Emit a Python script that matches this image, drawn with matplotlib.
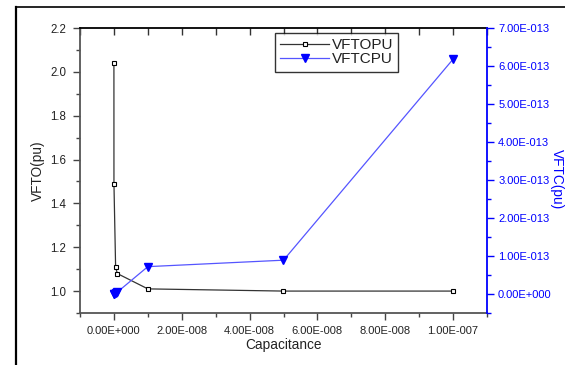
import matplotlib
matplotlib.use('Agg')
import matplotlib.pyplot as plt
from matplotlib.ticker import MultipleLocator, FuncFormatter, NullFormatter
from matplotlib.lines import Line2D

plt.rcParams['font.family'] = ['Liberation Sans', 'DejaVu Sans']

# capacitance values (F) and the two measured quantities
cap = [1e-12, 1e-11, 5e-10, 1e-9, 1e-8, 5e-8, 1e-7]
vfto = [2.04, 1.49, 1.11, 1.08, 1.01, 1.00, 1.00]
vftc = [0.0, 0.01e-13, 0.03e-13, 0.05e-13, 0.72e-13, 0.89e-13, 6.18e-13]


def sci(v, pos):
    # Origin style: 2.00E-008
    if abs(v) < 1e-30:
        return '0.00E+000'
    mant, exp = ('%.2E' % v).split('E')
    return '%sE%+04d' % (mant, int(exp))


fig = plt.figure(figsize=(5.65, 3.65), dpi=100)
ax = fig.add_axes([80/565, 1 - 313/365, 407/565, 285/365])

l1, = ax.plot(cap, vfto, color='#333333', lw=0.9, marker='s', ms=3.5,
              mfc='white', mec='black', mew=0.8, label='VFTOPU')
ax.set_xlim(-1e-8, 1.1e-7)
ax.set_ylim(0.9, 2.2)
ax.xaxis.set_major_locator(MultipleLocator(2e-8))
ax.xaxis.set_minor_locator(MultipleLocator(1e-8))
ax.yaxis.set_major_locator(MultipleLocator(0.2))
ax.yaxis.set_minor_locator(MultipleLocator(0.1))
ax.xaxis.set_major_formatter(FuncFormatter(sci))
ax.yaxis.set_major_formatter(FuncFormatter(lambda v, p: '%.1f' % v))
ax.tick_params(which='major', direction='out', length=5, width=1,
               colors='#444444', labelcolor='#222222')
ax.tick_params(which='minor', direction='out', length=3, width=1, colors='#444444')
ax.tick_params(axis='y', which='major', labelsize=8.3, pad=5)
ax.tick_params(axis='x', which='major', labelsize=8, pad=4)
for s in ['left', 'bottom']:
    ax.spines[s].set_color('#555555')
    ax.spines[s].set_linewidth(1.3)
ax.spines['top'].set_color('black')
ax.spines['top'].set_linewidth(1.3)
ax.spines['right'].set_visible(False)
ax.set_xlabel('Capacitance', fontsize=9.8, color='#222222', labelpad=2)
ax.set_ylabel('VFTO(pu)', fontsize=9.8, color='#222222', labelpad=4)

# inward ticks along the top edge
top = ax.secondary_xaxis('top')
top.xaxis.set_major_locator(MultipleLocator(1e-8))
top.xaxis.set_major_formatter(NullFormatter())
top.tick_params(direction='in', length=5, width=1, labeltop=False, colors='#333333')
top.spines['top'].set_visible(False)

ax2 = ax.twinx()
l2, = ax2.plot(cap, vftc, color='#5555ff', lw=0.9, marker='v', ms=5.8,
               mfc='blue', mec='blue', label='VFTCPU')
ax2.set_ylim(-0.5e-13, 7e-13)
ax2.yaxis.set_major_locator(MultipleLocator(1e-13))
ax2.yaxis.set_minor_locator(MultipleLocator(0.5e-13))
ax2.yaxis.set_major_formatter(FuncFormatter(sci))
ax2.tick_params(which='major', direction='out', length=5, width=1, colors='blue',
                labelsize=8, pad=3)
ax2.tick_params(which='minor', direction='out', length=3, width=1, colors='blue')
for s in ['left', 'bottom', 'top']:
    ax2.spines[s].set_visible(False)
ax2.spines['right'].set_color('blue')
ax2.spines['right'].set_linewidth(1.3)

# right axis title sits right at the page edge
fig.text(557/565, 1 - 179/365, 'VFTC(pu)', fontsize=9.8, color='blue',
         rotation=-90, ha='center', va='center')

leg = ax2.legend(handles=[l1, l2], loc='upper left',
                 bbox_to_anchor=(275/565, 1 - 33/365), bbox_transform=fig.transFigure,
                 fontsize=11, frameon=True, fancybox=False, edgecolor='black',
                 handlelength=3.2, handletextpad=0.15, borderpad=0.35,
                 labelspacing=0.0, borderaxespad=0)
leg.get_frame().set_linewidth(1.0)
for t in leg.get_texts():
    t.set_color('#222222')

# page frame lines on the left and top edges
fig.add_artist(Line2D([16/565, 16/565], [0, 1 - 7/365], color='black', lw=1.6))
fig.add_artist(Line2D([16/565, 1], [1 - 7/365, 1 - 7/365], color='black', lw=1.2))

fig.savefig('out.png', dpi=100)
